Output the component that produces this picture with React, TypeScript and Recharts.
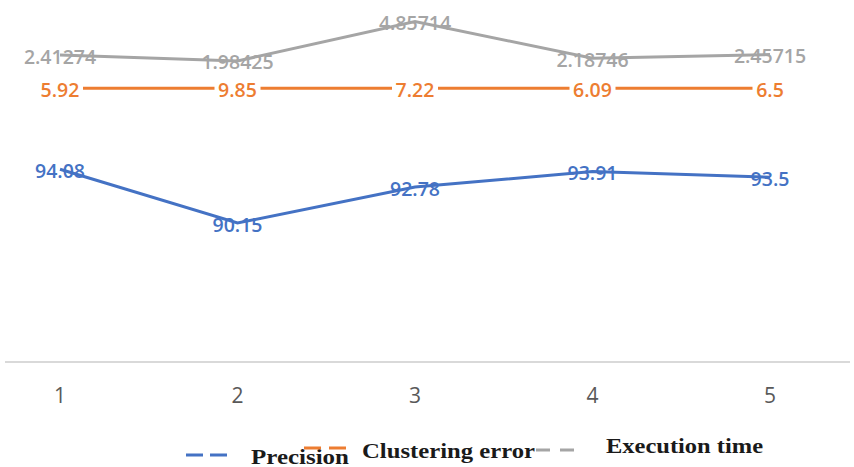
import React from 'react'
import { AreaChart, Area, XAxis, YAxis, LabelList, Legend } from 'recharts'

const categories = ['1', '2', '3', '4', '5']
const precision = [94.08, 90.15, 92.78, 93.91, 93.5]
const clusteringError = [5.92, 9.85, 7.22, 6.09, 6.5]
const executionTime = [2.41274, 1.98425, 4.85714, 2.18746, 2.45715]

const data = categories.map((name, i) => ({
  name,
  precision: precision[i],
  clusteringError: clusteringError[i],
  executionTime: executionTime[i],
}))

const BLUE = '#4472C4'
const ORANGE = '#ED7D31'
const GRAY = '#A5A5A5'

const labelFont = "'Open Sans', 'Liberation Sans', sans-serif"

function makeLabel(color: string, boxed: boolean) {
  return (props: any) => {
    const { x, y, value } = props
    const text = String(value)
    const w = text.length * 11 + 2
    return (
      <g>
        {boxed && <rect x={x - w / 2} y={y - 11} width={w} height={22} fill="#fff" />}
        <text
          x={x}
          y={y + 1}
          textAnchor="middle"
          dominantBaseline="central"
          fill={color}
          fontFamily={labelFont}
          fontWeight={600}
          fontSize={19.5}
        >
          {text}
        </text>
      </g>
    )
  }
}

function LegendBox() {
  const serif = "'Liberation Serif', 'DejaVu Serif', serif"
  // legend sits in the bottom 40px of the chart (y 427..467 on the page)
  return (
    <svg width={854} height={40} style={{ display: 'block' }}>
      <line x1={181} y1={28} x2={222} y2={28} stroke={BLUE} strokeWidth={3} strokeDasharray="17 7" />
      <text x={246} y={37} textLength={98} lengthAdjust="spacingAndGlyphs" fontFamily={serif} fontWeight={700} fontSize={20} fill="#1a1a1a">Precision</text>
      <line x1={299} y1={21} x2={349} y2={21} stroke={ORANGE} strokeWidth={3} strokeDasharray="17 8" />
      <text x={357} y={31} textLength={173} lengthAdjust="spacingAndGlyphs" fontFamily={serif} fontWeight={700} fontSize={21} fill="#1a1a1a">Clustering error</text>
      <line x1={531} y1={23} x2={573} y2={23} stroke={GRAY} strokeWidth={3} strokeDasharray="14 10" />
      <text x={601} y={26} textLength={157} lengthAdjust="spacingAndGlyphs" fontFamily={serif} fontWeight={700} fontSize={21} fill="#1a1a1a">Execution time</text>
    </svg>
  )
}

export default function App() {
  return (
    <div style={{ position: 'absolute', left: 0, top: 0, width: 854, height: 467, background: '#fff' }}>
      <AreaChart width={854} height={467} data={data} margin={{ top: 6, right: 4, left: 5, bottom: 0 }}>
        <XAxis
          dataKey="name"
          padding={{ left: 55, right: 80 }}
          axisLine={{ stroke: '#d9d9d9', strokeWidth: 2 }}
          tickLine={false}
          tick={{ fill: '#595959', fontSize: 21, fontFamily: labelFont }}
          tickMargin={20}
          height={65}
        />
        <YAxis hide domain={[80, 106]} allowDataOverflow />
        <Area
          type="linear"
          dataKey="precision"
          stackId="s"
          stroke={BLUE}
          strokeWidth={3}
          fill="none"
          fillOpacity={0}
          dot={false}
          activeDot={false}
          isAnimationActive={false}
        >
          <LabelList dataKey="precision" content={makeLabel(BLUE, false)} />
        </Area>
        <Area
          type="linear"
          dataKey="clusteringError"
          stackId="s"
          stroke={ORANGE}
          strokeWidth={3}
          fill="none"
          fillOpacity={0}
          dot={false}
          activeDot={false}
          isAnimationActive={false}
        >
          <LabelList dataKey="clusteringError" content={makeLabel(ORANGE, true)} />
        </Area>
        <Area
          type="linear"
          dataKey="executionTime"
          stackId="s"
          stroke={GRAY}
          strokeWidth={3}
          fill="none"
          fillOpacity={0}
          dot={false}
          activeDot={false}
          isAnimationActive={false}
        >
          <LabelList dataKey="executionTime" content={makeLabel(GRAY, false)} />
        </Area>
        <Legend verticalAlign="bottom" height={40} content={() => <LegendBox />} />
      </AreaChart>
    </div>
  )
}
